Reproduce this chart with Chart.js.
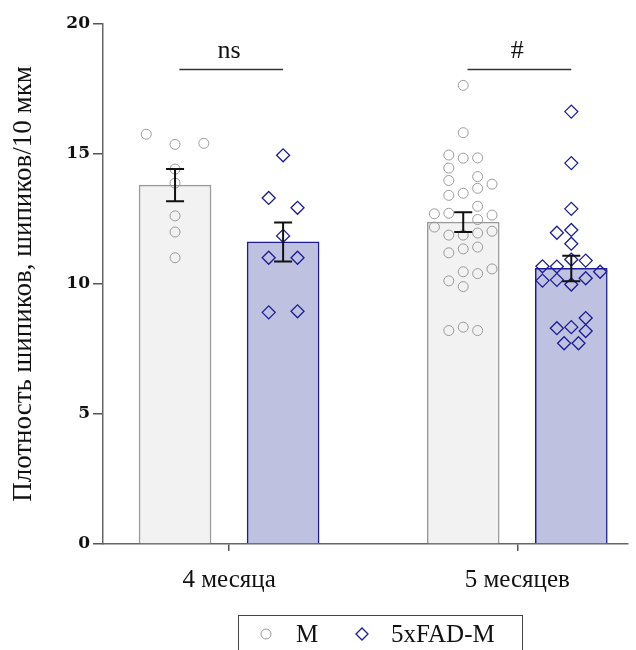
<!DOCTYPE html>
<html lang="ru">
<head>
<meta charset="UTF-8">
<title>Плотность шипиков</title>
<script src="https://cdn.jsdelivr.net/npm/chart.js"></script>
<style>
    body { margin: 0; background: #fff; }
    #wrap { width: 636px; height: 650px; }
</style>
</head>
<body>
<div id="wrap"><canvas id="spineChart" width="636" height="650"></canvas></div>
<script>
// categories and series
const categories = ['4 месяца', '5 месяцев'];
const seriesNames = ['M', '5xFAD-M'];
const groupCenters = [1.75, 5.75];

// bar heights (means) and SEM
const mMeans = [13.8, 12.38];
const mSem = [0.62, 0.38];
const fadMeans = [11.62, 10.6];
const fadSem = [0.75, 0.49];

// individual points: value + column (jitter slot)
const m4Values = [15.76, 15.37, 15.41, 14.42, 13.88, 12.62, 12.0, 11.01];
const m4Cols   = [-2, 0, 2, 0, 0, 0, 0, 0];
const fad4Values = [14.95, 13.31, 12.93, 11.85, 11.01, 11.01, 8.91, 8.95];
const fad4Cols   = [0, -1, 1, 0, -1, 1, -1, 1];
const m5Values = [17.64, 15.82, 14.96, 14.84, 14.85, 14.46, 13.98, 14.13, 13.68, 13.84, 13.41,
                  13.49, 12.99, 12.70, 12.72, 12.65, 12.48, 12.19, 11.88, 11.88, 11.96, 12.03,
                  11.20, 11.35, 11.42, 10.47, 10.40, 10.58, 10.12, 9.90, 8.21, 8.34, 8.21];
const m5Cols   = [0, 0, -1, 0, 1, -1, -1, 1, 1, 2, -1,
                  0, 1, -2, -1, 2, 1, -2, -1, 0, 1, 2,
                  -1, 0, 1, 0, 1, 2, -1, 0, -1, 0, 1];
const fad5Values = [16.63, 14.65, 12.89, 11.97, 12.08, 11.55, 10.94, 10.90, 10.68, 10.67, 10.47,
                    10.13, 10.16, 9.98, 10.22, 8.69, 8.30, 8.34, 8.19, 7.72, 7.72];
const fad5Cols   = [0, 0, 0, -1, 0, 0, 0, 1, -2, -1, 2,
                    -2, -1, 0, 1, 1, -1, 0, 1, -0.5, 0.5];

// significance marks
const sigLabels = ['ns', '#'];
const sigLevel = 18.25;
const sigTextLevel = 18.95;

// y ticks
const yMin = 0, yMax = 20, yStep = 5;

const barShift = 0.75;
const colStep = 0.2;

const grayLine = '#9a9a9a';
const navy = '#1c1c96';

function pointsFor(center, values, cols) {
    return values.map((v, i) => ({ x: center + cols[i] * colStep, y: v }));
}

const mX = groupCenters.map(c => c - barShift);
const fadX = groupCenters.map(c => c + barShift);

const mPoints = pointsFor(mX[0], m4Values, m4Cols).concat(pointsFor(mX[1], m5Values, m5Cols));
const fadPoints = pointsFor(fadX[0], fad4Values, fad4Cols).concat(pointsFor(fadX[1], fad5Values, fad5Cols));

// error bars + significance brackets
const extras = {
    id: 'extras',
    afterDatasetsDraw(chart) {
        const ctx = chart.ctx;
        const xs = chart.scales.x, ys = chart.scales.y;
        ctx.save();
        ctx.strokeStyle = '#111';
        ctx.lineWidth = 2;
        const errs = [[mX, mMeans, mSem], [fadX, fadMeans, fadSem]];
        errs.forEach(([xArr, means, sems]) => {
            xArr.forEach((x, i) => {
                const px = xs.getPixelForValue(x);
                const top = ys.getPixelForValue(means[i] + sems[i]);
                const bot = ys.getPixelForValue(means[i] - sems[i]);
                ctx.beginPath();
                ctx.moveTo(px, top); ctx.lineTo(px, bot);
                ctx.moveTo(px - 9, top); ctx.lineTo(px + 9, top);
                ctx.moveTo(px - 9, bot); ctx.lineTo(px + 9, bot);
                ctx.stroke();
            });
        });
        ctx.lineWidth = 1.3;
        ctx.strokeStyle = '#333';
        ctx.fillStyle = '#111';
        ctx.font = '26px "Liberation Serif", serif';
        ctx.textAlign = 'center';
        ctx.textBaseline = 'middle';
        groupCenters.forEach((c, i) => {
            const y = ys.getPixelForValue(sigLevel);
            ctx.beginPath();
            ctx.moveTo(xs.getPixelForValue(mX[i] + 0.06), y);
            ctx.lineTo(xs.getPixelForValue(fadX[i]), y);
            ctx.stroke();
            ctx.fillText(sigLabels[i], xs.getPixelForValue(c), ys.getPixelForValue(sigTextLevel));
        });
        ctx.restore();
    }
};

// boxed legend under the axis
const boxLegend = {
    id: 'boxLegend',
    afterDraw(chart) {
        const ctx = chart.ctx;
        ctx.save();
        ctx.strokeStyle = '#444';
        ctx.lineWidth = 1;
        ctx.strokeRect(238.5, 615.5, 284, 50);
        const cy = 634;
        ctx.strokeStyle = grayLine;
        ctx.beginPath();
        ctx.arc(266, cy, 5, 0, Math.PI * 2);
        ctx.stroke();
        ctx.strokeStyle = navy;
        ctx.lineWidth = 1.3;
        ctx.beginPath();
        ctx.moveTo(362, cy - 6); ctx.lineTo(368, cy); ctx.lineTo(362, cy + 6); ctx.lineTo(356, cy);
        ctx.closePath();
        ctx.stroke();
        ctx.fillStyle = '#111';
        ctx.font = '25px "Liberation Serif", serif';
        ctx.textBaseline = 'middle';
        ctx.fillText(seriesNames[0], 296, cy + 1);
        ctx.fillText(seriesNames[1], 391, cy + 1);
        ctx.restore();
    }
};

new Chart(document.getElementById('spineChart'), {
    type: 'bar',
    data: {
        datasets: [
            {
                type: 'scatter',
                label: seriesNames[0],
                data: mPoints,
                pointStyle: 'circle',
                pointRadius: 5,
                pointBorderWidth: 1,
                borderColor: grayLine,
                backgroundColor: 'rgba(0,0,0,0)',
                order: 1
            },
            {
                type: 'scatter',
                label: seriesNames[1],
                data: fadPoints,
                pointStyle: 'rectRot',
                pointRadius: 6.5,
                pointBorderWidth: 1.3,
                borderColor: navy,
                backgroundColor: 'rgba(0,0,0,0)',
                order: 1
            },
            {
                label: seriesNames[0],
                data: mX.map((x, i) => ({ x: x, y: mMeans[i] })),
                backgroundColor: '#f2f2f2',
                borderColor: grayLine,
                borderWidth: 1.5,
                barThickness: 72,
                grouped: false,
                order: 2
            },
            {
                label: seriesNames[1],
                data: fadX.map((x, i) => ({ x: x, y: fadMeans[i] })),
                backgroundColor: '#bfc1e0',
                borderColor: navy,
                borderWidth: 1.5,
                barThickness: 72,
                grouped: false,
                order: 2
            }
        ]
    },
    options: {
        responsive: false,
        animation: false,
        layout: { padding: { top: 24, right: 0, bottom: 0, left: 0 } },
        plugins: {
            legend: { display: false },
            tooltip: { enabled: false }
        },
        scales: {
            x: {
                type: 'linear',
                min: 0,
                max: 7.29,
                offset: false,
                afterFit: s => { s.height = 106; },
                afterBuildTicks: s => { s.ticks = groupCenters.map(v => ({ value: v })); },
                ticks: {
                    callback: v => categories[groupCenters.indexOf(v)],
                    padding: 14,
                    color: '#111',
                    font: { family: '"Liberation Serif", serif', size: 25 }
                },
                grid: { drawOnChartArea: false, offset: false, tickLength: 7, color: '#555', lineWidth: 1.5 },
                border: { color: '#666', width: 1.5 }
            },
            y: {
                min: yMin,
                max: yMax,
                afterFit: s => { s.width = 103; },
                ticks: {
                    stepSize: yStep,
                    padding: 3,
                    color: '#111',
                    font: { family: '"DejaVu Serif", serif', size: 17, weight: 'bold' }
                },
                grid: { drawOnChartArea: false, tickLength: 10, color: '#555', lineWidth: 1.5 },
                border: { color: '#666', width: 1.5 },
                title: {
                    display: true,
                    text: 'Плотность шипиков, шипиков/10 мкм',
                    color: '#111',
                    padding: { top: 8, bottom: 0 },
                    font: { family: '"Liberation Serif", serif', size: 27 }
                }
            }
        }
    },
    plugins: [extras, boxLegend]
});
</script>
</body>
</html>
